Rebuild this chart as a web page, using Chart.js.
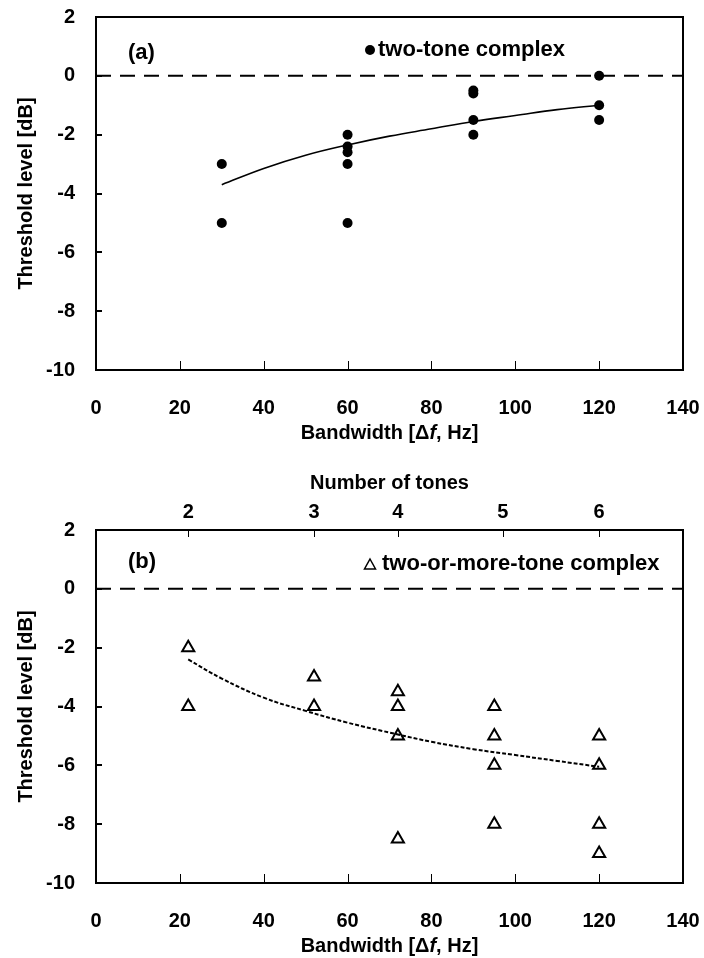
<!DOCTYPE html>
<html>
<head>
<meta charset="utf-8">
<title>Threshold level vs bandwidth</title>
<script src="https://cdn.jsdelivr.net/npm/chart.js@4.4.1/dist/chart.umd.min.js"></script>
<style>
  html, body { margin: 0; padding: 0; background: #fff; }
  #wrap { position: relative; width: 704px; height: 958px; }
  .panel { position: absolute; left: 0; width: 704px; }
  #panel_a { top: 0; height: 460px; }
  #panel_b { top: 460px; height: 498px; }
</style>
</head>
<body>
<div id="wrap">
  <div class="panel" id="panel_a"><canvas id="chart_a"></canvas></div>
  <div class="panel" id="panel_b"><canvas id="chart_b"></canvas></div>
</div>
<script>
// panel (a): two-tone complex
const bandwidth_a = [30, 30, 60, 60, 60, 60, 60, 90, 90, 90, 90, 120, 120, 120];
const threshold_a = [-3, -5, -2, -2.4, -2.6, -3, -5, -0.5, -0.6, -1.5, -2, 0, -1, -1.5];
const trend_a_x = [30, 40, 50, 60, 70, 80, 90, 100, 110, 120];
const trend_a_y = [-3.7, -3.15, -2.7, -2.35, -2.05, -1.8, -1.55, -1.35, -1.15, -1.0];

// panel (b): two-or-more-tone complex
const bandwidth_b = [22, 22, 52, 52, 72, 72, 72, 72, 95, 95, 95, 95, 120, 120, 120, 120];
const threshold_b = [-2, -4, -3, -4, -3.5, -4, -5, -8.5, -4, -5, -6, -8, -5, -6, -8, -9];
const trend_b_x = [22, 30, 40, 50, 60, 72, 80, 90, 100, 110, 120];
const trend_b_y = [-2.4, -3.05, -3.7, -4.15, -4.55, -4.95, -5.2, -5.45, -5.65, -5.85, -6.05];

// top axis of panel (b)
const tone_counts = [2, 3, 4, 5, 6];
const tone_bandwidths = [22, 52, 72, 97, 120];

// reference line
const zero_x = [0, 140];
const zero_y = [0, 0];

const x_ticks = [0, 20, 40, 60, 80, 100, 120, 140];
const y_ticks = [2, 0, -2, -4, -6, -8, -10];

const font_family = '"Liberation Sans", Arial, sans-serif';
Chart.defaults.font.family = font_family;
Chart.defaults.color = '#000';

const pts = (xs, ys) => xs.map((x, i) => ({x: x, y: ys[i]}));

// keep the plot box where the layout padding puts it
const no_pad = s => {
	s.paddingLeft = 0;
	s.paddingRight = 0;
	s.paddingTop = 0;
	s.paddingBottom = 0;
};

const frame_ticks = {
	id: 'frame_ticks',
	afterDraw(chart, args, opts) {
		const ctx = chart.ctx;
		const a = chart.chartArea;
		ctx.save();
		ctx.strokeStyle = '#000';
		ctx.fillStyle = '#000';

		// inward tick marks
		ctx.lineWidth = 1;
		chart.scales.x.ticks.forEach(t => {
			const px = Math.round(chart.scales.x.getPixelForValue(t.value)) + 0.5;
			ctx.beginPath();
			ctx.moveTo(px, a.bottom);
			ctx.lineTo(px, a.bottom - 9);
			ctx.stroke();
		});
		if (chart.scales.x2) {
			chart.scales.x2.ticks.forEach(t => {
				const px = Math.round(chart.scales.x2.getPixelForValue(t.value)) + 0.5;
				ctx.beginPath();
				ctx.moveTo(px, a.top);
				ctx.lineTo(px, a.top + 7);
				ctx.stroke();
			});
		}
		ctx.lineWidth = 2;
		chart.scales.y.ticks.forEach(t => {
			const py = Math.round(chart.scales.y.getPixelForValue(t.value));
			ctx.beginPath();
			ctx.moveTo(a.left, py);
			ctx.lineTo(a.left + 6, py);
			ctx.stroke();
		});

		// box
		ctx.strokeRect(a.left, a.top, a.right - a.left, a.bottom - a.top);

		// x axis title with italic f
		const bold = 'bold 20px ' + font_family;
		const ital = 'italic bold 20px ' + font_family;
		const parts = [['Bandwidth [\u0394', bold], ['f', ital], [', Hz]', bold]];
		let w = 0;
		parts.forEach(p => { ctx.font = p[1]; w += ctx.measureText(p[0]).width; });
		let tx = (a.left + a.right) / 2 - w / 2;
		ctx.textBaseline = 'middle';
		ctx.textAlign = 'left';
		parts.forEach(p => {
			ctx.font = p[1];
			ctx.fillText(p[0], tx, a.bottom + 63);
			tx += ctx.measureText(p[0]).width;
		});

		// panel label
		ctx.font = 'bold 22px ' + font_family;
		ctx.fillText(opts.panel, a.left + 32, a.top + opts.label_dy);

		// legend
		const mx = a.left + 274;
		const my = a.top + opts.legend_dy;
		if (opts.marker === 'circle') {
			ctx.beginPath();
			ctx.arc(mx, my, 5, 0, Math.PI * 2);
			ctx.fill();
		} else {
			ctx.lineWidth = 1.5;
			ctx.beginPath();
			ctx.moveTo(mx, my - 5);
			ctx.lineTo(mx + 5.5, my + 5);
			ctx.lineTo(mx - 5.5, my + 5);
			ctx.closePath();
			ctx.stroke();
		}
		ctx.fillText(opts.legend, mx + opts.text_gap, my);
		ctx.restore();
	}
};

function base_scales() {
	return {
		x: {
			type: 'linear',
			position: 'bottom',
			min: 0,
			max: 140,
			afterBuildTicks: s => { s.ticks = x_ticks.map(v => ({value: v})); },
			afterFit: s => { s.height = 75; no_pad(s); },
			grid: {display: false, drawTicks: false},
			border: {display: false},
			ticks: {font: {size: 20, weight: 'bold'}, padding: 26, maxRotation: 0}
		},
		y: {
			type: 'linear',
			min: -10,
			max: 2,
			afterBuildTicks: s => { s.ticks = y_ticks.map(v => ({value: v})); },
			afterFit: s => { s.width = 96; no_pad(s); },
			grid: {display: false, drawTicks: false},
			border: {display: false},
			ticks: {font: {size: 20, weight: 'bold'}, padding: 21},
			title: {
				display: true,
				text: 'Threshold level [dB]',
				font: {size: 20, weight: 'bold'},
				padding: {top: 14, bottom: 0}
			}
		}
	};
}

const chart_a = new Chart(
		document.getElementById('chart_a').getContext('2d'),
		{
			type: 'scatter',
			data: {
				datasets: [{
						data: pts(zero_x, zero_y),
						showLine: true,
						borderColor: '#000',
						borderWidth: 2,
						borderDash: [15, 9],
						pointRadius: 0
					}, {
						data: pts(trend_a_x, trend_a_y),
						showLine: true,
						borderColor: '#000',
						borderWidth: 1.6,
						tension: 0.4,
						pointRadius: 0
					}, {
						data: pts(bandwidth_a, threshold_a),
						pointStyle: 'circle',
						pointRadius: 5,
						backgroundColor: '#000',
						borderWidth: 0
					}]
			},
			options: {
				responsive: true,
				maintainAspectRatio: false,
				animation: false,
				events: [],
				layout: {padding: {top: 17, right: 21, bottom: 15, left: 0}},
				scales: base_scales(),
				plugins: {
					legend: {display: false},
					tooltip: {enabled: false},
					frame_ticks: {
						panel: '(a)',
						label_dy: 36,
						legend: 'two-tone complex',
						legend_dy: 33,
						marker: 'circle',
						text_gap: 8
					}
				}
			},
			plugins: [frame_ticks]
		}
);

const scales_b = base_scales();
scales_b.x2 = {
	type: 'linear',
	position: 'top',
	min: 0,
	max: 140,
	afterBuildTicks: s => { s.ticks = tone_bandwidths.map(v => ({value: v})); },
	afterFit: s => { s.height = 70; no_pad(s); },
	grid: {display: false, drawTicks: false},
	border: {display: false},
	ticks: {
		font: {size: 20, weight: 'bold'},
		padding: 6,
		maxRotation: 0,
		callback: (v, i) => tone_counts[i]
	},
	title: {
		display: true,
		text: 'Number of tones',
		font: {size: 20, weight: 'bold'},
		padding: {top: 11, bottom: 0}
	}
};

const chart_b = new Chart(
		document.getElementById('chart_b').getContext('2d'),
		{
			type: 'scatter',
			data: {
				datasets: [{
						data: pts(zero_x, zero_y),
						showLine: true,
						borderColor: '#000',
						borderWidth: 2,
						borderDash: [15, 9],
						pointRadius: 0
					}, {
						data: pts(trend_b_x, trend_b_y),
						showLine: true,
						borderColor: '#000',
						borderWidth: 2,
						borderDash: [4, 2],
						tension: 0.4,
						pointRadius: 0
					}, {
						data: pts(bandwidth_b, threshold_b),
						pointStyle: 'triangle',
						pointRadius: 7,
						backgroundColor: 'rgba(255,255,255,0)',
						borderColor: '#000',
						borderWidth: 2
					}]
			},
			options: {
				responsive: true,
				maintainAspectRatio: false,
				animation: false,
				events: [],
				layout: {padding: {top: 0, right: 21, bottom: 0, left: 0}},
				scales: scales_b,
				plugins: {
					legend: {display: false},
					tooltip: {enabled: false},
					frame_ticks: {
						panel: '(b)',
						label_dy: 32,
						legend: 'two-or-more-tone complex',
						legend_dy: 34,
						marker: 'triangle',
						text_gap: 12
					}
				}
			},
			plugins: [frame_ticks]
		}
);
</script>
</body>
</html>
